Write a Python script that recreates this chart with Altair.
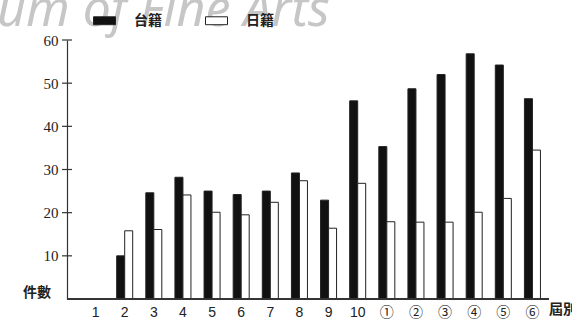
import altair as alt
import pandas as pd

cats = ["1", "2", "3", "4", "5", "6", "7", "8", "9", "10", "①", "②", "③", "④", "⑤", "⑥"]
taiwan = [None, 10, 24.6, 28.2, 25.0, 24.2, 25.0, 29.2, 22.9, 45.9, 35.3, 48.7, 52.0, 56.8, 54.2, 46.4]
japan = [None, 15.8, 16.1, 24.1, 20.1, 19.5, 22.4, 27.4, 16.4, 26.8, 17.9, 17.8, 17.8, 20.1, 23.3, 34.5]
series = ["台籍", "日籍"]
y_ticks = [10, 20, 30, 40, 50, 60]

rows = []
for c, t, j in zip(cats, taiwan, japan):
    rows.append({"屆別": c, "籍": series[0], "件數": t})
    rows.append({"屆別": c, "籍": series[1], "件數": j})
df = pd.DataFrame(rows)
ticks_df = pd.DataFrame({"v": y_ticks})

W, H = 482, 259

xscale = alt.Scale(domain=cats, range=[14, 480], paddingInner=0.45, paddingOuter=0.225)
yscale = alt.Scale(domain=[0, 60])

bars = alt.Chart(df).mark_bar(stroke="#222", strokeWidth=1).encode(
    x=alt.X("屆別:N", scale=xscale, sort=cats,
            axis=alt.Axis(title=None, domain=False, ticks=False, tickSize=0, labelAngle=0,
                          labelFont="Liberation Sans, Noto Sans CJK JP", labelFontSize=14,
                          labelColor="#222", labelPadding=6)),
    xOffset=alt.XOffset("籍:N", scale=alt.Scale(domain=series, paddingInner=0, paddingOuter=0)),
    y=alt.Y("件數:Q", scale=yscale,
            axis=alt.Axis(title=None, values=y_ticks, grid=False, ticks=False, tickSize=0,
                          labelFont="Liberation Serif", labelFontSize=15, labelColor="#222",
                          labelPadding=9, domainColor="#333", domainWidth=1.2)),
    fill=alt.Fill("籍:N", scale=alt.Scale(domain=series, range=["#111111", "#ffffff"]),
                  legend=alt.Legend(title=None, orient="none", legendX=26, legendY=-31,
                                    direction="horizontal", padding=0,
                                    symbolType="M-1,-0.36H1V0.36H-1Z", symbolSize=484,
                                    symbolStrokeColor="#222", symbolStrokeWidth=1,
                                    labelFont="Noto Sans CJK TC", labelFontSize=14,
                                    labelFontWeight="bold", labelColor="#222",
                                    labelOffset=18, columnPadding=41)),
)

xaxis_line = alt.Chart(ticks_df).mark_rule(color="#333", strokeWidth=1.2).encode(
    x=alt.value(0), x2=alt.value(W), y=alt.value(H)
)

ytick_marks = alt.Chart(ticks_df).mark_rule(color="#333", strokeWidth=1.2).encode(
    x=alt.value(-5), x2=alt.value(5), y=alt.Y("v:Q", scale=yscale)
)

watermark = alt.Chart(ticks_df).transform_filter("datum.v == 10").mark_text(
    text="um of Fine Arts", font="Noto Sans", fontSize=50, fontStyle="italic",
    color="#c6c6c6", align="left", baseline="alphabetic"
).encode(x=alt.value(-70), y=alt.value(-14))

ylabel = alt.Chart(ticks_df).transform_filter("datum.v == 10").mark_text(
    text="件數", font="Noto Sans CJK TC", fontSize=14, fontWeight="bold",
    color="#222", align="center", baseline="middle"
).encode(x=alt.value(-30), y=alt.value(253))

xlabel = alt.Chart(ticks_df).transform_filter("datum.v == 10").mark_text(
    text="屆別", font="Noto Sans CJK TC", fontSize=14, fontWeight="bold",
    color="#222", align="left", baseline="middle"
).encode(x=alt.value(482), y=alt.value(270))

chart = alt.layer(watermark, bars, xaxis_line, ytick_marks, ylabel, xlabel).properties(
    width=W, height=H,
    autosize=alt.AutoSizeParams(type="none"),
    padding={"left": 67, "top": 40, "right": 23, "bottom": 22},
    background="white",
).configure_view(stroke=None)

chart.save("out.html", embed_options={"renderer": "svg", "actions": False})
